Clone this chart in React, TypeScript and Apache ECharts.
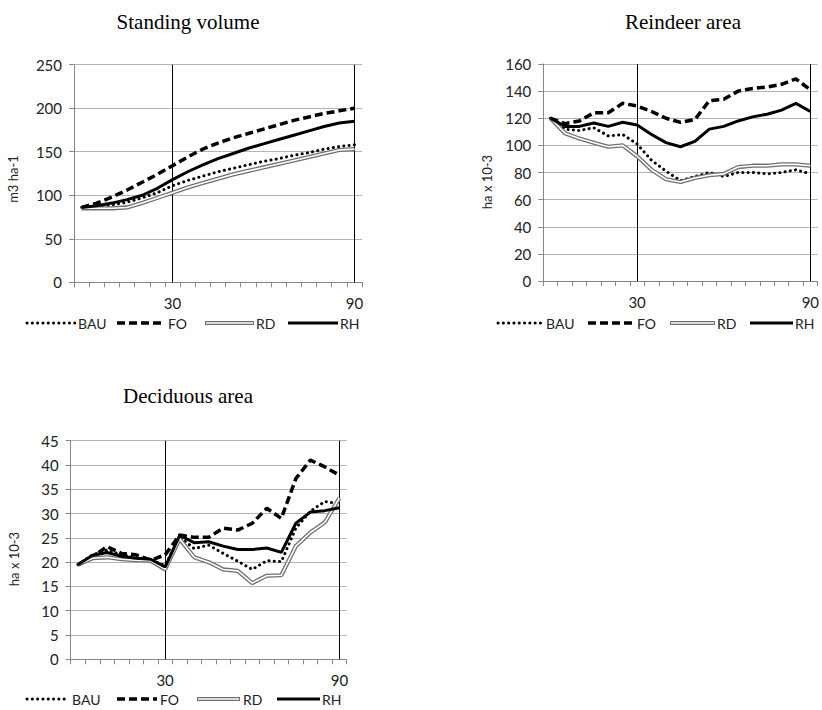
import React, { useEffect, useRef } from "react";
import * as echarts from "echarts";

// ---- data ----
const years = ["0", "5", "10", "15", "20", "25", "30", "35", "40", "45", "50", "55", "60", "65", "70", "75", "80", "85", "90"];
const labeledYears = ["30", "90"];
const guideYears = ["30", "90"];

const volBAU = [86, 87, 89, 92, 97, 103, 111, 117, 122, 127, 131, 135, 139, 142, 146, 149, 153, 156, 158];
const volFO = [86, 91, 98, 106, 115, 124, 134, 144, 153, 160, 166, 171, 176, 181, 186, 190, 194, 197, 200];
const volRD = [85, 85, 85, 86, 91, 97, 103, 109, 114, 119, 124, 128, 132, 136, 140, 144, 148, 152, 153];
const volRH = [86, 88, 91, 95, 100, 108, 118, 127, 135, 142, 148, 154, 159, 164, 169, 174, 179, 183, 185];

const reiBAU = [120, 112, 111, 113, 107, 108, 101, 89, 81, 74, 77, 80, 77, 80, 80, 79, 80, 82, 79];
const reiFO = [120, 116, 118, 124, 124, 131, 129, 125, 120, 117, 119, 133, 134, 140, 142, 143, 145, 149, 141];
const reiRD = [120, 109, 105, 102, 99, 100, 92, 82, 75, 73, 76, 78, 79, 84, 85, 85, 86, 86, 85];
const reiRH = [120, 114, 114, 116.5, 114, 117, 115, 108, 102, 99, 103, 112, 114, 118, 121, 123, 126, 131, 125];

const decBAU = [19.5, 21.5, 22.5, 21.5, 21, 20.5, 19.3, 25.2, 22.8, 23.5, 21.8, 20.2, 18.5, 20.3, 20.1, 27, 30.5, 32.5, 32];
const decFO = [19.4, 21.1, 23.2, 21.8, 21.5, 20.4, 21.5, 25.6, 25.1, 25.1, 27, 26.6, 28, 31.1, 29, 37.2, 41, 39.6, 37.9];
const decRD = [19.5, 20.8, 21.0, 20.6, 20.4, 20.3, 18.5, 24.8, 21.0, 20.0, 18.5, 18.2, 15.7, 17.2, 17.3, 23.3, 26.1, 28.2, 33.2];
const decRH = [19.5, 21.4, 22.0, 21.2, 20.8, 20.6, 19.0, 25.5, 24.0, 24.2, 23.3, 22.6, 22.6, 22.9, 22.0, 28.0, 30.3, 30.6, 31.2];

const titles = ["Standing volume", "Reindeer area", "Deciduous area"];
const yNames = ["m3 ha-1", "ha x 10-3", "ha x 10-3"];
const yMax = [250, 160, 45];
const yStep = [50, 20, 5];
const seriesNames = ["BAU", "FO", "RD", "RH"];

// ---- layout ----
const grids = [
  { left: 74, top: 64.7, width: 288, height: 217.6 },
  { left: 543.3, top: 64, width: 276, height: 217 },
  { left: 70.7, top: 440.7, width: 276, height: 218.6 },
];
const titlePos = [
  [188, 22],
  [683, 22],
  [188, 396],
];
const yNamePos = [
  [13, 179],
  [487, 182],
  [14, 559],
];
// legend: [sampleStart, sampleEnd, textX] for BAU, FO, RD, RH and y
const legendPos = [
  { y: 323, items: [[27, 75, 78], [117, 165, 168], [205, 254, 256], [288, 338, 340]] },
  { y: 323, items: [[498, 542, 546], [588, 633, 637], [670, 715, 717], [750, 793, 795]] },
  { y: 699, items: [[27, 68, 72], [117, 157, 160], [197, 240, 243], [277, 320, 322]] },
];

const FONT = "Lato";
const AX = "#868686";
const GRID = "#b3b3b3";

const bauStyle = { color: "#000", width: 3, type: [0.1, 5.2], cap: "round" };
const foStyle = { color: "#000", width: 3.5, type: [8, 4], cap: "butt" };
const rdOuter = { color: "#6f6f6f", width: 4.2, type: "solid" };
const rdInner = { color: "#ffffff", width: 1.6, type: "solid" };
const rhStyle = { color: "#000", width: 3, type: "solid" };

function legendGraphics(idx: number) {
  const L = legendPos[idx];
  const y = L.y;
  const els: any[] = [];
  const mk = (x1: number, x2: number, st: any, dash?: number[], cap?: string) => ({
    type: "line",
    shape: { x1, y1: y, x2, y2: y },
    style: { stroke: st.color, lineWidth: st.width, lineDash: dash, lineCap: cap || "butt" },
    silent: true,
  });
  const [b, f, r, h] = L.items;
  els.push(mk(b[0], b[1], bauStyle, [0.1, 5.2], "round"));
  els.push(mk(f[0], f[1], foStyle, [8, 4]));
  els.push(mk(r[0], r[1], rdOuter));
  els.push(mk(r[0] + 1, r[1] - 1, rdInner));
  els.push(mk(h[0], h[1], rhStyle));
  L.items.forEach((it, k) => {
    els.push({
      type: "text",
      x: it[2],
      y: y,
      style: {
        text: seriesNames[k],
        font: `14px ${FONT}`,
        fill: "#222",
        align: "left",
        textAlign: "left",
        verticalAlign: "middle",
        textVerticalAlign: "middle",
      },
    });
  });
  return els;
}

export default function App() {
  const ref = useRef<HTMLDivElement>(null);
  useEffect(() => {
    if (!ref.current) return;
    const chart = echarts.init(ref.current, undefined, { renderer: "svg" });
    const dataSets = [
      [volBAU, volFO, volRD, volRH],
      [reiBAU, reiFO, reiRD, reiRH],
      [decBAU, decFO, decRD, decRH],
    ];
    const series: any[] = [];
    dataSets.forEach((ds, i) => {
      const base = { type: "line", xAxisIndex: i, yAxisIndex: i, symbol: "none", silent: true, smooth: false };
      series.push({ ...base, name: "BAU", data: ds[0], lineStyle: bauStyle, z: 3 });
      series.push({ ...base, name: "FO", data: ds[1], lineStyle: foStyle, z: 3 });
      series.push({ ...base, name: "RD", data: ds[2], lineStyle: rdOuter, z: 3 });
      series.push({ ...base, name: "RD-inner", data: ds[2], lineStyle: rdInner, z: 3 });
      series.push({
        ...base,
        name: "RH",
        data: ds[3],
        lineStyle: rhStyle,
        z: 3,
        markLine: {
          silent: true,
          symbol: ["none", "none"],
          label: { show: false },
          lineStyle: { color: "#000", width: 1, type: "solid" },
          data: guideYears.map((y) => ({ xAxis: y })),
          z: 2,
        },
      });
    });

    const graphic: any[] = [];
    titles.forEach((t, i) => {
      graphic.push({
        type: "text",
        x: titlePos[i][0],
        y: titlePos[i][1],
        style: {
          text: t,
          font: '21px "Liberation Serif"',
          fill: "#000",
          align: "center",
          textAlign: "center",
          verticalAlign: "middle",
          textVerticalAlign: "middle",
        },
      });
      graphic.push({
        type: "text",
        x: yNamePos[i][0],
        y: yNamePos[i][1],
        rotation: Math.PI / 2,
        style: {
          text: yNames[i],
          font: `13px ${FONT}`,
          fill: "#222",
          align: "center",
          textAlign: "center",
          verticalAlign: "middle",
          textVerticalAlign: "middle",
        },
      });
      graphic.push(...legendGraphics(i));
    });

    const option: any = {
      animation: false,
      grid: grids.map((g) => ({ ...g, containLabel: false })),
      xAxis: grids.map((_, i) => ({
        type: "category",
        gridIndex: i,
        data: years,
        boundaryGap: true,
        axisLine: { show: true, lineStyle: { color: AX, width: 1 } },
        axisTick: { show: true, interval: 0, length: 5, alignWithLabel: false, lineStyle: { color: AX } },
        axisLabel: {
          interval: (_idx: number, val: string) => labeledYears.includes(val),
          margin: 13,
          fontSize: 15,
          fontFamily: FONT,
          color: "#222",
        },
        splitLine: { show: false },
      })),
      yAxis: grids.map((_, i) => ({
        type: "value",
        gridIndex: i,
        min: 0,
        max: yMax[i],
        interval: yStep[i],
        axisLine: { show: true, lineStyle: { color: AX, width: 1 } },
        axisTick: { show: true, length: 5, lineStyle: { color: AX } },
        axisLabel: { margin: 12, fontSize: 15, fontFamily: FONT, color: "#222" },
        splitLine: { show: true, lineStyle: { color: GRID, width: 1 } },
      })),
      series,
      graphic,
    };
    chart.setOption(option);
    return () => chart.dispose();
  }, []);
  return (
    <div
      ref={ref}
      style={{ position: "fixed", left: 0, top: 0, width: 822, height: 710, background: "#fff" }}
    />
  );
}
